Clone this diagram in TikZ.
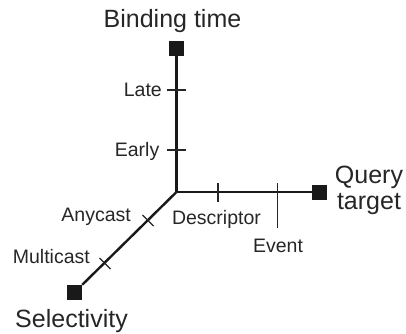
\documentclass[tikz,border=0pt]{standalone}
\usepackage{fontspec}
\setmainfont{Liberation Sans}
\begin{document}
\begin{tikzpicture}[x=1pt,y=-1pt,
  axis/.style={line width=2.4pt,draw=black!90},
  tick/.style={line width=1.1pt,draw=black!85},
  endbox/.style={draw=none,fill=black!90,minimum size=15pt,inner sep=0pt},
  biglabel/.style={inner sep=0pt,font=\fontsize{25}{26.5}\selectfont,text=black!85},
  smalllabel/.style={inner sep=0pt,font=\fontsize{19.5}{22}\selectfont,text=black!85}]
\useasboundingbox (0,0) rectangle (406,333);

% origin and the three axis end markers
\coordinate (o) at (176.5,192);
\node[endbox] (bt) at (176.5,48.5) {};
\node[endbox] (qt) at (319.5,192) {};
\node[endbox] (se) at (74.5,292.5) {};

% axes
\draw[axis] (o) -- (bt.south);
\draw[axis] (o) -- (qt.west);
\draw[axis] (o) -- (se.north east);

% binding time ticks
\coordinate (late) at (176.5,90);
\coordinate (early) at (176.5,150);
\draw[tick] ([xshift=-9.5pt]late) -- ([xshift=9.5pt]late);
\draw[tick] ([xshift=-9.5pt]early) -- ([xshift=9.5pt]early);

% query target ticks
\coordinate (desc) at (218,192);
\coordinate (event) at (277.5,192);
\draw[tick] ([yshift=9pt]desc) -- ([yshift=-9.5pt]desc);
\draw[tick] ([yshift=9pt]event) -- ([yshift=-36pt]event);

% selectivity ticks
\coordinate (any) at (148,220.5);
\coordinate (multi) at (105,263.5);
\draw[tick] ([shift={(-5.5,-5.5)}]any) -- ([shift={(5.5,5.5)}]any);
\draw[tick] ([shift={(-5.5,-5.5)}]multi) -- ([shift={(5.5,5.5)}]multi);

% axis titles
\node[biglabel,anchor=base] (btl) at (172.5,27) {Binding time};
\node[biglabel,align=center,anchor=north] (qtl) at (369,165.5) {Query\\target};
\node[biglabel,anchor=base] (sel) at (71.5,327) {Selectivity};

% value labels
\node[smalllabel,anchor=base east] (latel) at (162,96) {Late};
\node[smalllabel,anchor=base east] (earlyl) at (159.5,156.5) {Early};
\node[smalllabel,anchor=base] (descl) at (216.5,224.5) {Descriptor};
\node[smalllabel,anchor=base] (eventl) at (278,252) {Event};
\node[smalllabel,anchor=base east] (anyl) at (131,221) {Anycast};
\node[smalllabel,anchor=base east] (multil) at (90,263.5) {Multicast};
\end{tikzpicture}
\end{document}
